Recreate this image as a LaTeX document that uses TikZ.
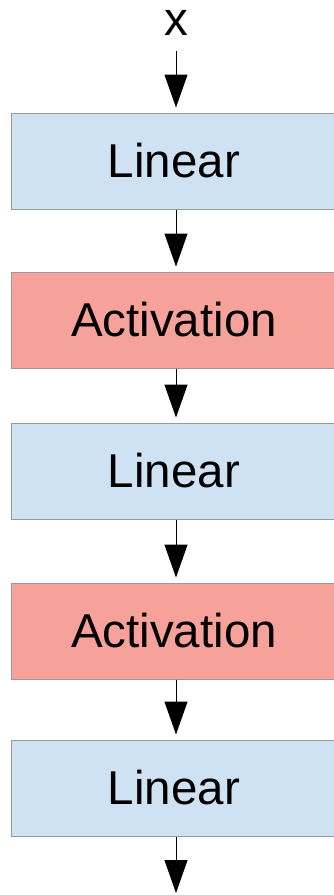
\documentclass[tikz,border=0pt]{standalone}
\usepackage{fontspec}
\setmainfont{Liberation Sans}
\usetikzlibrary{arrows.meta}
\definecolor{linblue}{RGB}{207,226,243}
\definecolor{actred}{RGB}{246,161,154}
\definecolor{edgegray}{RGB}{153,153,153}
\begin{document}
\begin{tikzpicture}[x=1pt,y=-1pt,
  bigtext/.style={font=\fontsize{47.5}{52}\selectfont},
  layerbox/.style={draw=edgegray, line width=1pt, minimum width=330pt, minimum height=96pt, inner sep=0pt, bigtext},
  linbox/.style={layerbox, fill=linblue},
  actbox/.style={layerbox, fill=actred},
  flow/.style={line width=1pt, -{Triangle[width=23pt,length=33pt]}, shorten >=5pt}]
\useasboundingbox (0,0) rectangle (334,895);
\node[bigtext, anchor=base, inner sep=0pt] (x) at (176,35) {x};
\node[linbox] (l1) at (176,161) {\hspace*{-4pt}Linear};
\node[actbox] (a1) at (176,320) {\hspace*{-4pt}Activation};
\node[linbox] (l2) at (176,471) {\hspace*{-4pt}Linear};
\node[actbox] (a2) at (176,631) {\hspace*{-4pt}Activation};
\node[linbox] (l3) at (176,788) {\hspace*{-4pt}Linear};
\coordinate (out) at (176,893);
\draw[flow, shorten <=16pt] (x.south) -- (l1.north);
\draw[flow] (l1.south) -- (a1.north);
\draw[flow] (a1.south) -- (l2.north);
\draw[flow] (l2.south) -- (a2.north);
\draw[flow] (a2.south) -- (l3.north);
\draw[flow, shorten >=0pt] (l3.south) -- (out);
\end{tikzpicture}
\end{document}
